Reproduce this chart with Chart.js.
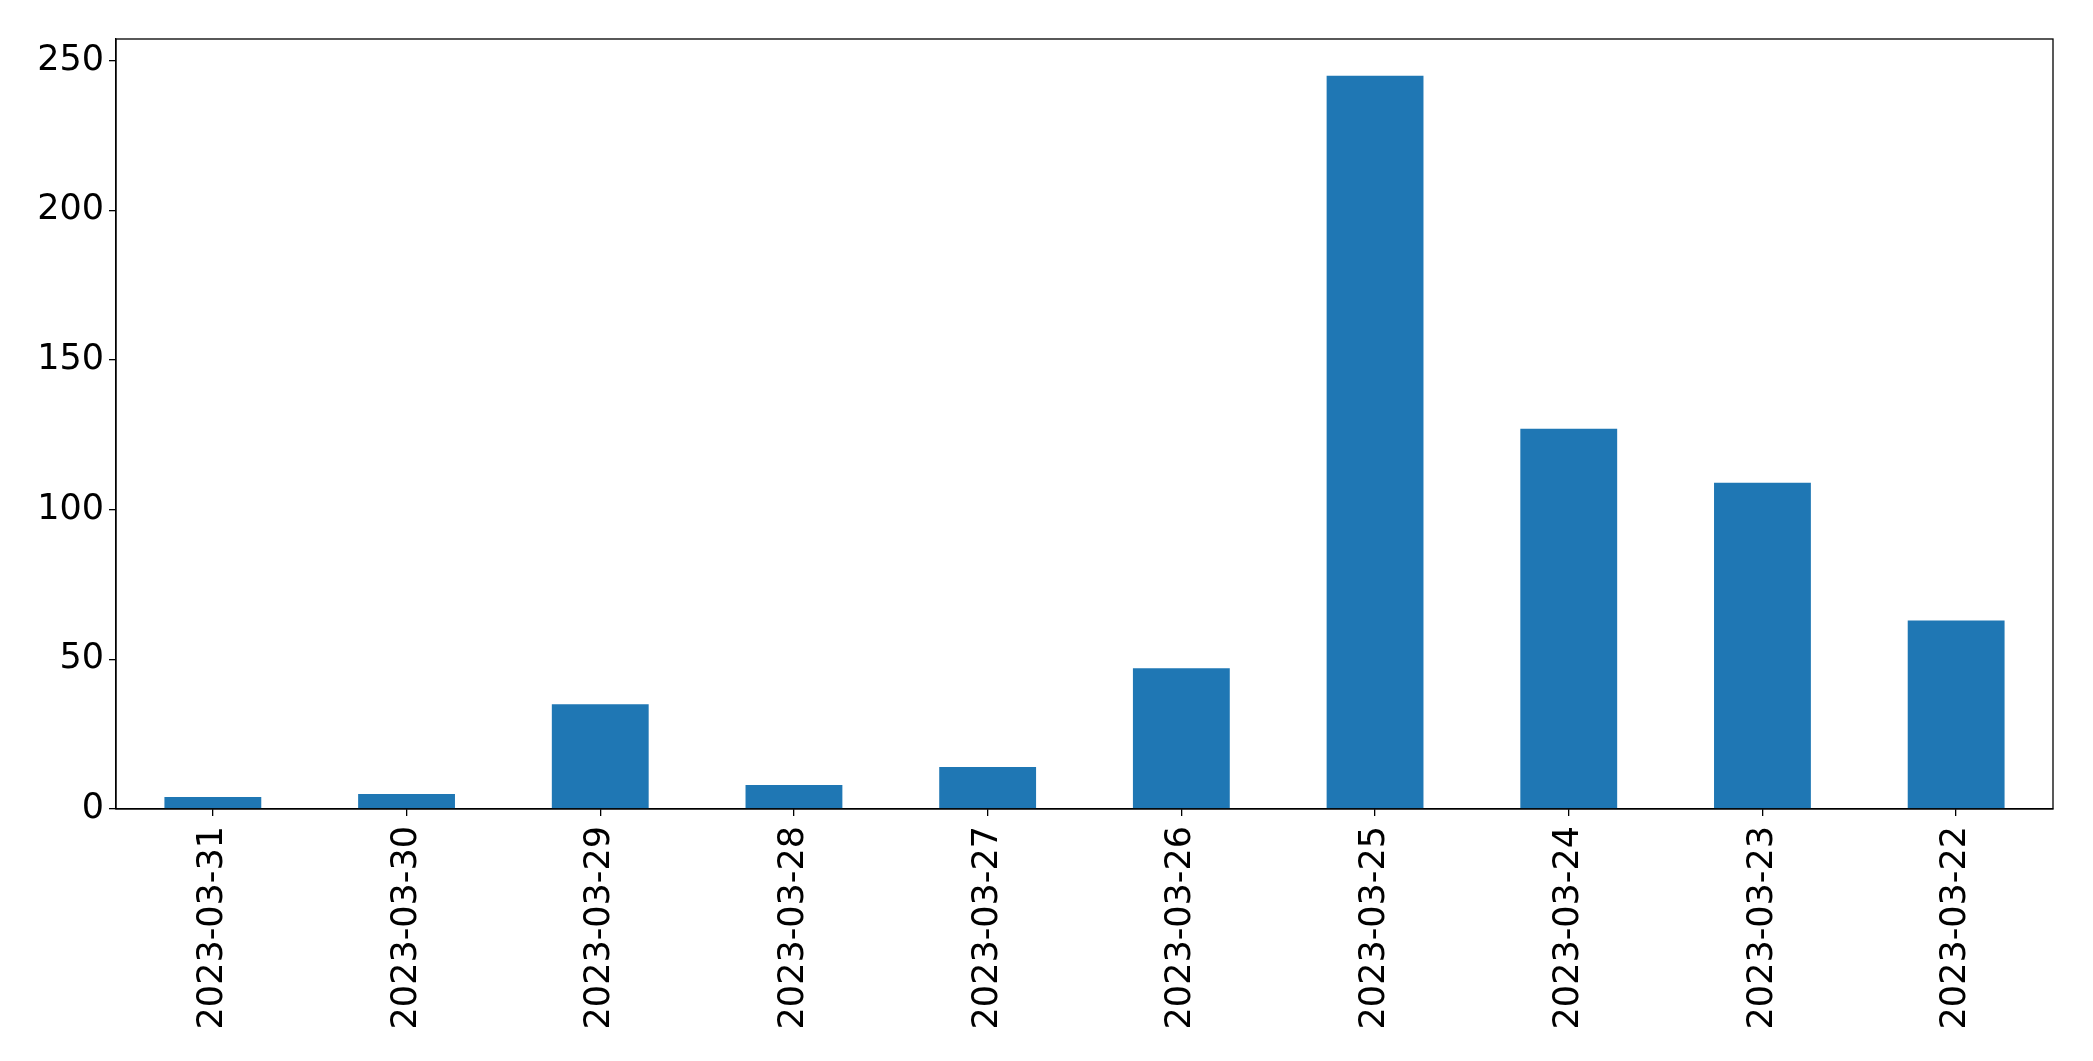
<!DOCTYPE html>
<html>
<head>
<meta charset="utf-8">
<script src="https://cdn.jsdelivr.net/npm/chart.js@4/dist/chart.umd.min.js"></script>
<style>
    html, body { margin: 0; padding: 0; background: #fff; }
    #wrap { width: 2093px; height: 1061px; }
</style>
</head>
<body>
<div id="wrap"><canvas id="chart" width="2093" height="1061"></canvas></div>
<script>
// Data
const dates = [
    '2023-03-31', '2023-03-30', '2023-03-29', '2023-03-28', '2023-03-27',
    '2023-03-26', '2023-03-25', '2023-03-24', '2023-03-23', '2023-03-22'
];
const counts = [4, 5, 35, 8, 14, 47, 245, 127, 109, 63];
const yTicks = [0, 50, 100, 150, 200, 250];

const FONT = { family: "'DejaVu Sans', sans-serif", size: 35 };

// Plot frame (matplotlib draws all four spines)
const frame = {
    id: 'frame',
    afterDraw(chart) {
        const { ctx, chartArea: a } = chart;
        ctx.save();
        ctx.strokeStyle = '#000';
        ctx.lineWidth = 1.3;
        ctx.strokeRect(a.left, a.top, a.right - a.left, a.bottom - a.top);
        ctx.restore();
    }
};

new Chart(document.getElementById('chart'), {
    type: 'bar',
    data: {
        labels: dates,
        datasets: [{
            data: counts,
            backgroundColor: '#1f77b4',
            borderWidth: 0,
            categoryPercentage: 1.0,
            barPercentage: 0.5
        }]
    },
    options: {
        responsive: false,
        animation: false,
        devicePixelRatio: 1,
        layout: { padding: { top: 39, right: 40, left: 0, bottom: 0 } },
        plugins: {
            legend: { display: false },
            tooltip: { enabled: false }
        },
        scales: {
            x: {
                offset: true,
                grid: { display: true, offset: false, drawOnChartArea: false, color: '#000', tickLength: 7, lineWidth: 1.3 },
                border: { display: true, color: '#000', width: 1.3 },
                ticks: {
                    color: '#000',
                    font: FONT,
                    minRotation: 90,
                    maxRotation: 90,
                    padding: 10,
                    autoSkip: false
                },
                afterFit(scale) { scale.height = 1061 - 809; }
            },
            y: {
                min: 0,
                max: 257.25,
                grid: { display: true, drawOnChartArea: false, color: '#000', tickLength: 7, lineWidth: 1.3 },
                border: { display: true, color: '#000', width: 1.3 },
                afterBuildTicks(scale) {
                    scale.ticks = yTicks.map(v => ({ value: v }));
                },
                ticks: {
                    color: '#000',
                    font: FONT,
                    padding: 5,
                    includeBounds: false
                },
                afterFit(scale) { scale.width = 116; }
            }
        }
    },
    plugins: [frame]
});
</script>
</body>
</html>
